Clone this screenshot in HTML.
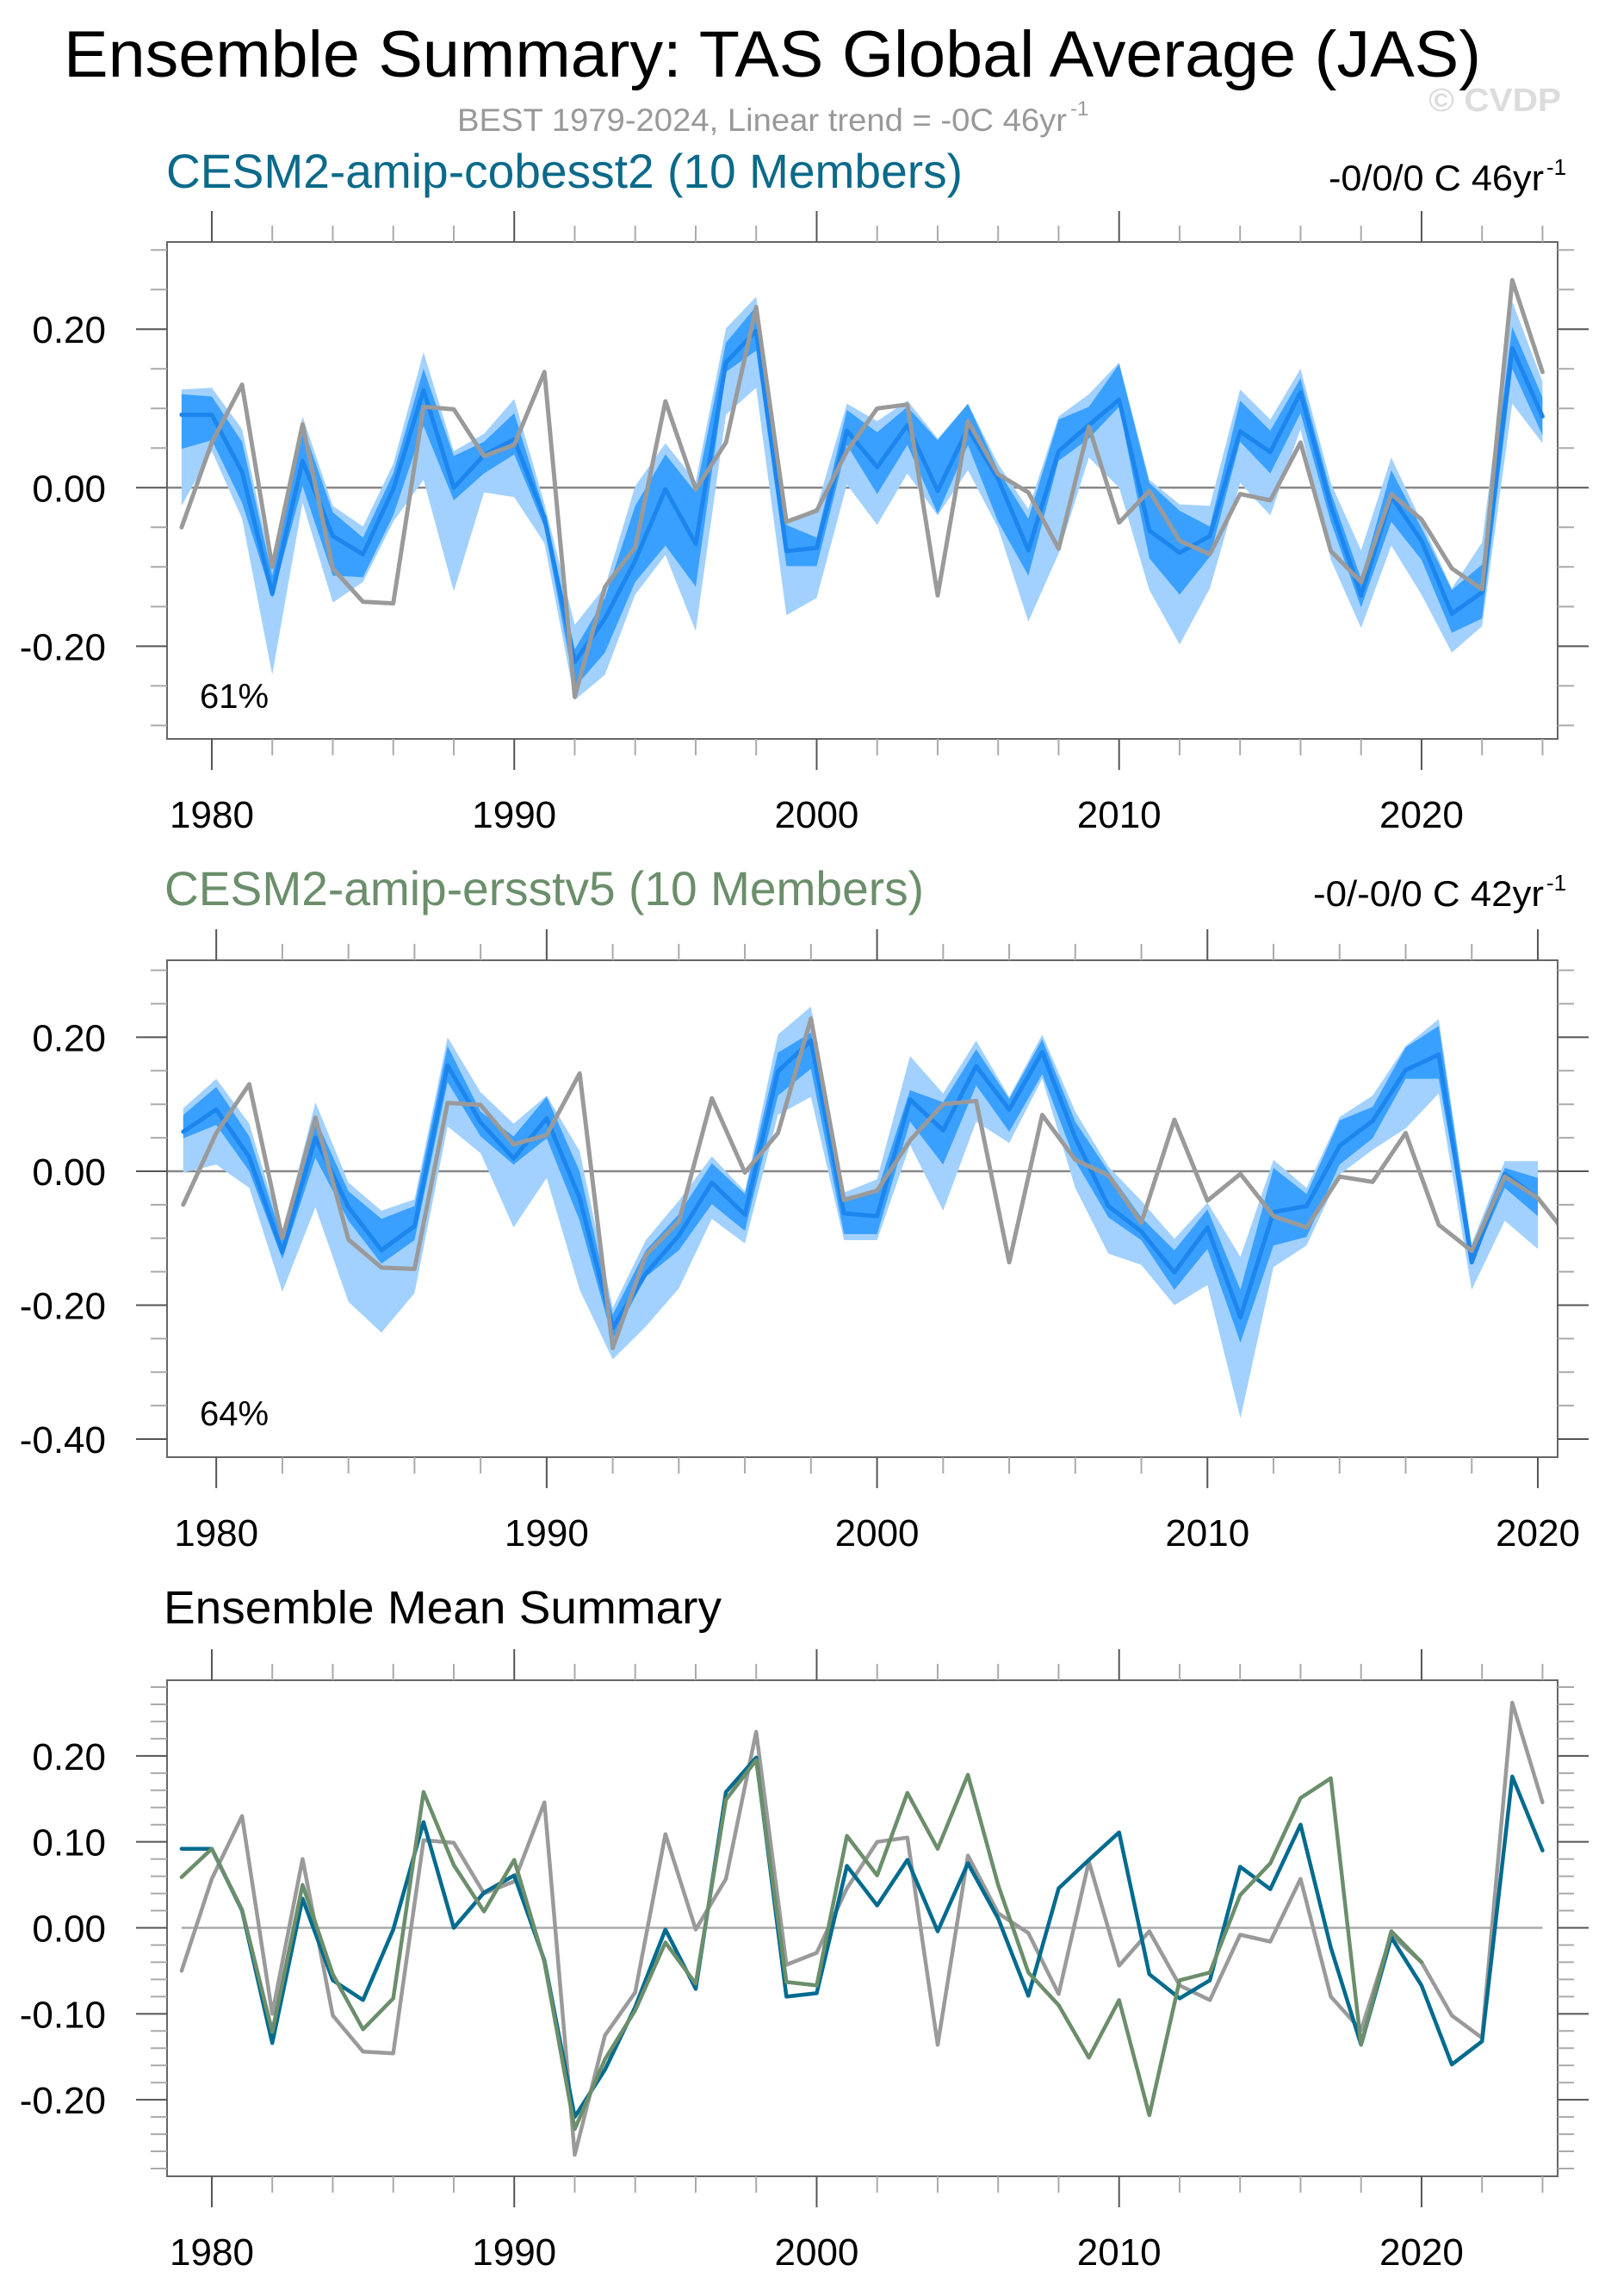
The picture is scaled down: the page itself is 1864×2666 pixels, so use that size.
<!DOCTYPE html>
<html><head><meta charset="utf-8"><title>Ensemble Summary: TAS Global Average (JAS)</title>
<style>
html,body{margin:0;padding:0;background:#fff;}
svg{display:block;font-family:"Liberation Sans",Arial,sans-serif;}
</style></head>
<body>
<svg id="chart" xmlns="http://www.w3.org/2000/svg" width="1864" height="2666" viewBox="0 0 1864 2666">
<rect x="0" y="0" width="1864" height="2666" fill="#fff"/>
<text x="74" y="89" font-size="76" textLength="1646" lengthAdjust="spacingAndGlyphs" fill="#000">Ensemble Summary: TAS Global Average (JAS)</text>
<text x="531" y="152" font-size="37" textLength="708" lengthAdjust="spacingAndGlyphs" fill="#999">BEST 1979-2024, Linear trend = -0C 46yr</text>
<text x="1243" y="134" font-size="24" fill="#999">-1</text>
<text x="1659" y="129" font-size="38" font-weight="bold" textLength="154" lengthAdjust="spacingAndGlyphs" fill="#dcdcdc">© CVDP</text>

<text x="193" y="218" font-size="56" textLength="925" lengthAdjust="spacingAndGlyphs" fill="#0b6a8a">CESM2-amip-cobesst2 (10 Members)</text>
<text x="1543" y="221" font-size="42" textLength="250" lengthAdjust="spacingAndGlyphs" fill="#000">-0/0/0 C 46yr</text>
<text x="1796" y="203" font-size="26" fill="#000">-1</text>

<text x="191" y="1051" font-size="56" textLength="882" lengthAdjust="spacingAndGlyphs" fill="#6b8e6b">CESM2-amip-ersstv5 (10 Members)</text>
<text x="1525" y="1052" font-size="42" textLength="268" lengthAdjust="spacingAndGlyphs" fill="#000">-0/-0/0 C 42yr</text>
<text x="1796" y="1034" font-size="26" fill="#000">-1</text>

<text x="190" y="1885" font-size="54" textLength="648" lengthAdjust="spacingAndGlyphs" fill="#000">Ensemble Mean Summary</text>
<g id="plots"></g>
</svg>
<script>
// ---- data (years 1979..) ----
const years1 = [1979,1980,1981,1982,1983,1984,1985,1986,1987,1988,1989,1990,1991,1992,1993,1994,1995,1996,1997,1998,1999,2000,2001,2002,2003,2004,2005,2006,2007,2008,2009,2010,2011,2012,2013,2014,2015,2016,2017,2018,2019,2020,2021,2022,2023,2024];
const years2 = [1979,1980,1981,1982,1983,1984,1985,1986,1987,1988,1989,1990,1991,1992,1993,1994,1995,1996,1997,1998,1999,2000,2001,2002,2003,2004,2005,2006,2007,2008,2009,2010,2011,2012,2013,2014,2015,2016,2017,2018,2019,2020];
const obsBEST = [-0.050,0.057,0.130,-0.100,0.080,-0.102,-0.144,-0.146,0.102,0.099,0.040,0.054,0.146,-0.264,-0.125,-0.075,0.109,-0.002,0.057,0.228,-0.043,-0.029,0.046,0.100,0.105,-0.136,0.084,0.017,-0.006,-0.077,0.077,-0.044,-0.004,-0.067,-0.084,-0.008,-0.016,0.057,-0.080,-0.119,-0.008,-0.040,-0.102,-0.128,0.262,0.146];
const meanCobe = [0.092,0.092,0.020,-0.134,0.034,-0.061,-0.084,-0.002,0.123,0.000,0.041,0.061,-0.038,-0.220,-0.165,-0.092,-0.002,-0.071,0.158,0.198,-0.080,-0.076,0.072,0.026,0.079,-0.004,0.075,0.011,-0.079,0.046,0.079,0.111,-0.054,-0.082,-0.061,0.071,0.045,0.120,-0.023,-0.136,-0.011,-0.067,-0.159,-0.132,0.176,0.090];
const lightHiCobe = [0.124,0.126,0.074,-0.103,0.090,-0.023,-0.049,0.030,0.171,0.046,0.068,0.112,-0.020,-0.173,-0.125,0.002,0.056,0.008,0.201,0.241,-0.043,-0.025,0.106,0.084,0.110,0.062,0.106,0.030,-0.027,0.090,0.118,0.158,0.010,-0.021,-0.023,0.124,0.086,0.150,0.006,-0.079,0.038,-0.043,-0.127,-0.069,0.235,0.134];
const darkHiCobe = [0.118,0.115,0.058,-0.111,0.078,-0.031,-0.063,0.018,0.150,0.040,0.058,0.094,-0.030,-0.204,-0.139,-0.023,0.042,-0.006,0.183,0.229,-0.047,-0.063,0.098,0.070,0.102,0.060,0.106,0.022,-0.039,0.086,0.102,0.156,0.006,-0.029,-0.049,0.110,0.072,0.138,-0.006,-0.115,0.022,-0.051,-0.129,-0.097,0.203,0.114];
const darkLoCobe = [0.049,0.060,-0.019,-0.139,0.002,-0.111,-0.113,-0.035,0.078,-0.016,0.018,0.042,-0.050,-0.252,-0.208,-0.119,-0.073,-0.125,0.146,0.173,-0.099,-0.099,0.054,-0.008,0.054,-0.033,0.054,-0.043,-0.111,0.034,0.062,0.102,-0.089,-0.135,-0.087,0.058,0.018,0.094,-0.043,-0.151,-0.043,-0.091,-0.183,-0.165,0.150,0.066];
const lightLoCobe = [-0.023,0.046,-0.039,-0.236,-0.019,-0.145,-0.119,-0.043,0.010,-0.131,-0.006,-0.012,-0.070,-0.268,-0.236,-0.135,-0.085,-0.181,0.092,0.126,-0.161,-0.139,0.004,-0.047,0.018,-0.035,0.022,-0.051,-0.169,-0.083,0.038,0.000,-0.129,-0.198,-0.127,0.006,-0.035,0.074,-0.091,-0.177,-0.073,-0.135,-0.208,-0.175,0.106,0.056];
const meanErsst = [0.059,0.092,0.021,-0.121,0.050,-0.054,-0.118,-0.082,0.158,0.073,0.019,0.079,-0.040,-0.234,-0.153,-0.096,-0.017,-0.065,0.149,0.195,-0.063,-0.067,0.107,0.061,0.157,0.092,0.178,0.050,-0.052,-0.090,-0.151,-0.084,-0.218,-0.061,-0.052,0.038,0.075,0.151,0.174,-0.136,-0.004,-0.040];
const lightHiErsst = [0.094,0.138,0.071,-0.094,0.103,-0.017,-0.059,-0.042,0.200,0.118,0.071,0.113,0.030,-0.204,-0.103,-0.044,0.022,-0.030,0.204,0.246,-0.032,-0.012,0.172,0.116,0.195,0.111,0.204,0.089,0.007,-0.044,-0.101,-0.047,-0.128,0.017,-0.025,0.081,0.113,0.187,0.227,-0.108,0.015,0.015];
const darkHiErsst = [0.084,0.126,0.052,-0.101,0.079,-0.030,-0.071,-0.052,0.187,0.089,0.052,0.111,0.000,-0.214,-0.118,-0.064,0.012,-0.034,0.177,0.207,-0.039,-0.030,0.121,0.103,0.182,0.108,0.197,0.074,0.000,-0.069,-0.118,-0.057,-0.177,0.005,-0.034,0.076,0.096,0.185,0.217,-0.113,0.005,-0.010];
const darkLoErsst = [0.049,0.069,0.000,-0.131,0.020,-0.074,-0.138,-0.103,0.133,0.052,0.010,0.049,-0.074,-0.251,-0.158,-0.118,-0.049,-0.089,0.113,0.153,-0.094,-0.094,0.074,0.010,0.128,0.059,0.145,0.015,-0.069,-0.103,-0.177,-0.116,-0.256,-0.111,-0.098,0.010,0.049,0.138,0.138,-0.138,-0.025,-0.067];
const lightLoErsst = [-0.002,0.010,-0.025,-0.180,-0.054,-0.195,-0.241,-0.182,0.067,0.027,-0.084,-0.010,-0.177,-0.281,-0.232,-0.175,-0.071,-0.108,0.084,0.111,-0.103,-0.103,0.039,-0.059,0.074,0.042,0.138,-0.025,-0.123,-0.140,-0.200,-0.170,-0.369,-0.143,-0.111,-0.005,0.032,0.064,0.116,-0.177,-0.074,-0.116];
const yTickLabels12 = ["0.20","0.00","-0.20","-0.40"];
const yTickVals12 = [0.2,0.0,-0.2,-0.4];
const yTickLabels3 = ["0.20","0.10","0.00","-0.10","-0.20"];
const yTickVals3 = [0.2,0.1,0.0,-0.1,-0.2];
const xTickYears = [1980,1990,2000,2010,2020];
const pctLabels = ["61%","64%"];

const NS = "http://www.w3.org/2000/svg";
const root = document.getElementById('plots');
function mk(tag, attrs, parent){
  const e = document.createElementNS(NS, tag);
  for (const k in attrs) e.setAttribute(k, attrs[k]);
  (parent||root).appendChild(e);
  return e;
}

function panel(p){
  const g = mk('g', {});
  
  
  const sx = v => p.x0 + (v - p.xmin) / (p.xmax - p.xmin) * (p.x1 - p.x0);
  const sy = v => p.y1 - (v - p.ymin) / (p.ymax - p.ymin) * (p.y1 - p.y0);
  const clipId = p.name + '-clip';
  const cp = mk('clipPath', {id: clipId}, g);
  mk('rect', {x: p.x0, y: p.y0, width: p.x1 - p.x0, height: p.y1 - p.y0}, cp);
  const plot = mk('g', {'clip-path': 'url(#' + clipId + ')'}, g);

  // bands
  function band(hi, lo, yrs, fill, nm){
    let d = '';
    yrs.forEach((y,i)=>{ d += (i? 'L':'M') + sx(y).toFixed(1) + ' ' + sy(hi[i]).toFixed(1); });
    for (let i = yrs.length-1; i >= 0; i--) d += 'L' + sx(yrs[i]).toFixed(1) + ' ' + sy(lo[i]).toFixed(1);
    const e = mk('path', {d: d + 'Z', fill: fill, stroke: 'none'}, plot);
    
    
  }
  function line(vals, yrs, color, w, nm){
    let d = '';
    yrs.forEach((y,i)=>{ if (i < vals.length) d += (i? 'L':'M') + sx(y).toFixed(1) + ' ' + sy(vals[i]).toFixed(1); });
    const e = mk('path', {d: d, fill: 'none', stroke: color, 'stroke-width': w, 'stroke-linejoin': 'round', 'stroke-linecap': 'round'}, plot);
    
    
  }
  // zero line
  const zl = mk('line', {x1: p.zeroFull ? p.x0 : sx(1979), x2: p.zeroFull ? p.x1 : sx(2024), y1: sy(0), y2: sy(0), stroke: p.zeroColor, 'stroke-width': 2.5}, plot);
  
  
  if (p.bands){
    band(p.bands[0], p.bands[3], p.yrs, '#a2d1ff', 'band-light');
    band(p.bands[1], p.bands[2], p.yrs, '#3aa0ff', 'band-dark');
  }
  p.lines.forEach(L => line(L.vals, L.yrs, L.color, L.w, L.name));

  // frame
  const fr = mk('rect', {x: p.x0, y: p.y0, width: p.x1 - p.x0, height: p.y1 - p.y0, fill: 'none', stroke: '#666', 'stroke-width': 2}, g);
  
  

  // x ticks
  for (let yr = 1980; yr <= p.xmax; yr += 2){
    const X = sx(yr); const major = (yr % 10 === 0); const L = major ? 36 : 19;
    const c = major ? '#555' : '#aaa';
    mk('line', {x1: X, x2: X, y1: p.y0, y2: p.y0 - L, stroke: c, 'stroke-width': 2}, g);
    mk('line', {x1: X, x2: X, y1: p.y1, y2: p.y1 + L, stroke: c, 'stroke-width': 2}, g);
  }
  xTickYears.forEach(yr => {
    if (yr > p.xmax) return;
    const t = mk('text', {x: sx(yr), y: p.y1 + 103, 'font-size': 44, 'text-anchor': 'middle', fill: '#000'}, g);
    t.textContent = String(yr);
    
    
  });
  // y ticks
  const nMin = Math.round((p.ymax - p.ymin) / p.minorStep) + 2;
  const start = Math.ceil(p.ymin / p.minorStep - 1e-6);
  for (let k = start; k * p.minorStep <= p.ymax + 1e-9; k++){
    const v = k * p.minorStep; const Y = sy(v);
    const major = Math.abs(v / p.majorStep - Math.round(v / p.majorStep)) < 1e-6;
    const L = major ? 36 : 19; const c = major ? '#555' : '#aaa';
    mk('line', {x1: p.x0, x2: p.x0 - L, y1: Y, y2: Y, stroke: c, 'stroke-width': 2}, g);
    mk('line', {x1: p.x1, x2: p.x1 + L, y1: Y, y2: Y, stroke: c, 'stroke-width': 2}, g);
  }
  p.yLabels.forEach((lab, i) => {
    const v = p.yVals[i]; if (v < p.ymin || v > p.ymax) return;
    const t = mk('text', {x: 123, y: sy(v) + 16, 'font-size': 44, 'text-anchor': 'end', fill: '#000'}, g);
    t.textContent = lab;
    
    
  });
  if (p.pct){
    const t = mk('text', {x: 232, y: p.pctY, 'font-size': 40, fill: '#000'}, g);
    t.textContent = p.pct;
    
    
  }
}

panel({name: 'panel-cobesst2', x0: 194, x1: 1809, y0: 281, y1: 858, xmin: 1978.52, xmax: 2024.5, ymin: -0.317, ymax: 0.310,
  minorStep: 0.05, majorStep: 0.2, yLabels: yTickLabels12, yVals: yTickVals12, zeroFull: true, zeroColor: '#888',
  yrs: years1, bands: [lightHiCobe, darkHiCobe, darkLoCobe, lightLoCobe],
  lines: [{vals: meanCobe, yrs: years1, color: '#1c86ee', w: 5, name: 'ensemble-mean-line'},
          {vals: obsBEST, yrs: years1, color: '#9a9a9a', w: 5, name: 'obs-line'}],
  pct: pctLabels[0], pctY: 822});

panel({name: 'panel-ersstv5', x0: 194, x1: 1809, y0: 1115, y1: 1692, xmin: 1978.51, xmax: 2020.6, ymin: -0.427, ymax: 0.315,
  minorStep: 0.05, majorStep: 0.2, yLabels: yTickLabels12, yVals: yTickVals12, zeroFull: true, zeroColor: '#888',
  yrs: years2, bands: [lightHiErsst, darkHiErsst, darkLoErsst, lightLoErsst],
  lines: [{vals: meanErsst, yrs: years2, color: '#1c86ee', w: 5, name: 'ensemble-mean-line'},
          {vals: obsBEST, yrs: years1, color: '#9a9a9a', w: 5, name: 'obs-line'}],
  pct: pctLabels[1], pctY: 1655});

panel({name: 'panel-ensemble-mean', x0: 194, x1: 1809, y0: 1951, y1: 2527, xmin: 1978.52, xmax: 2024.5, ymin: -0.289, ymax: 0.288,
  minorStep: 0.02, majorStep: 0.1, yLabels: yTickLabels3, yVals: yTickVals3, zeroFull: false, zeroColor: '#aaa',
  yrs: years1, bands: null,
  lines: [{vals: obsBEST, yrs: years1, color: '#9a9a9a', w: 4.5, name: 'obs-line'},
          {vals: meanCobe, yrs: years1, color: '#006b8f', w: 4.5, name: 'cobesst2-mean-line'},
          {vals: meanErsst, yrs: years2, color: '#6b8e6b', w: 4.5, name: 'ersstv5-mean-line'}],
  pct: null});
</script>
</body></html>
